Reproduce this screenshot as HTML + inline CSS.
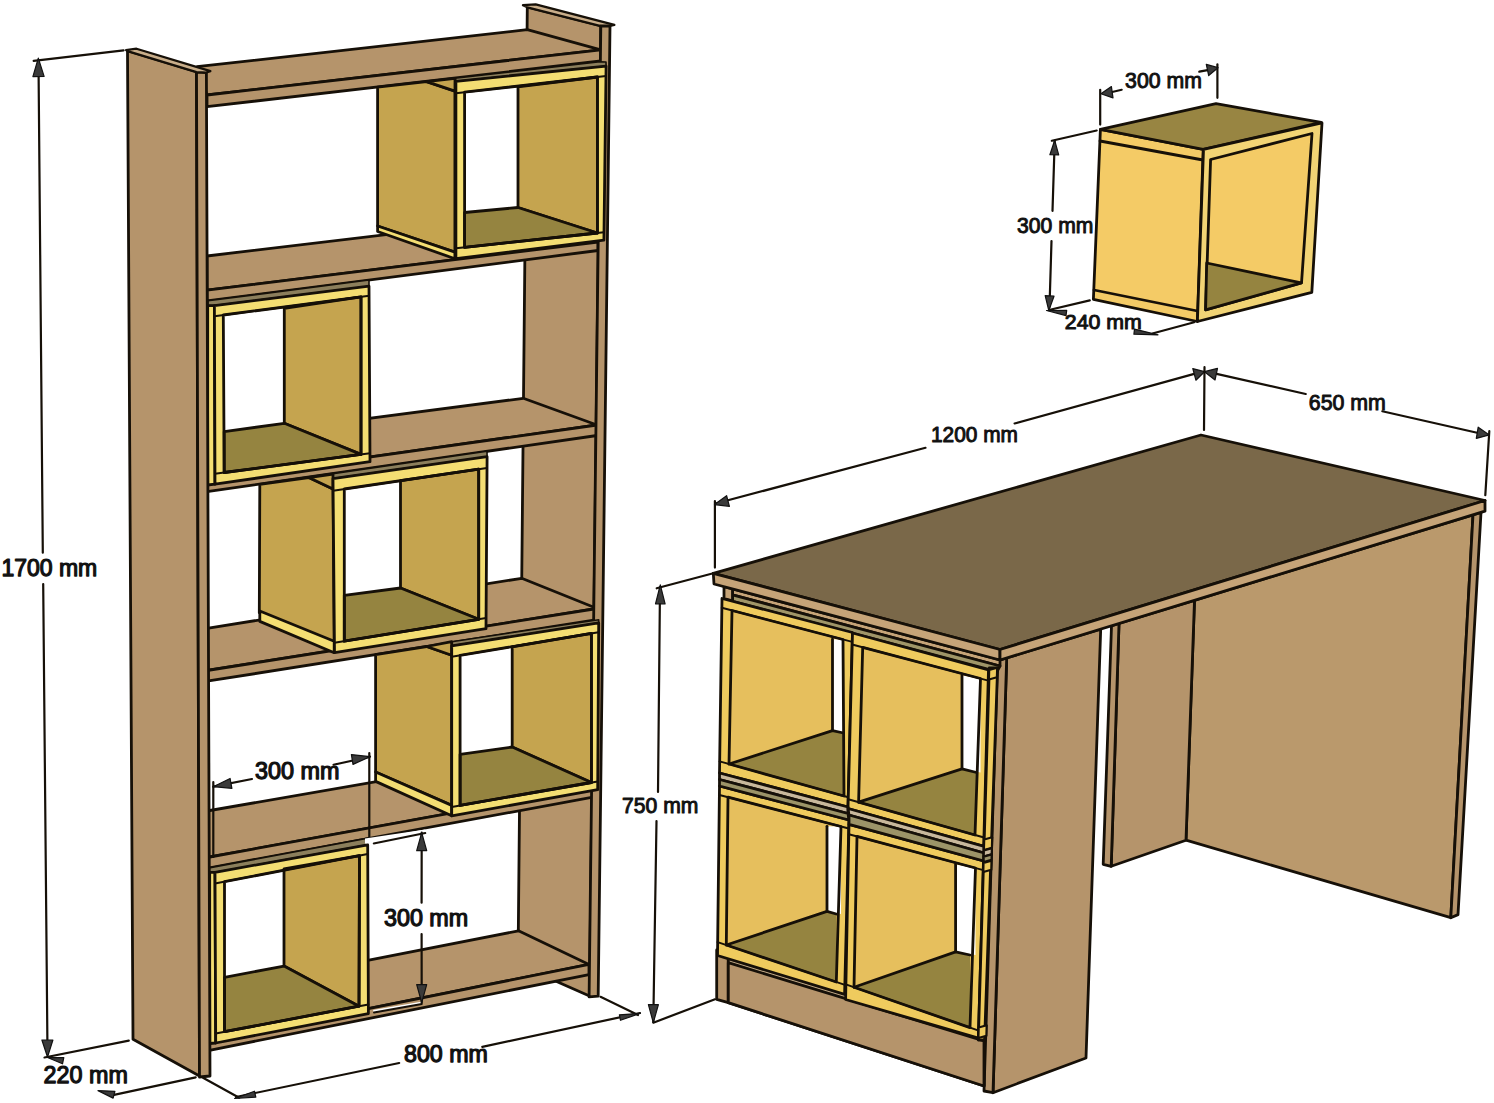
<!DOCTYPE html>
<html><head><meta charset="utf-8"><style>
html,body{margin:0;padding:0;background:#fff;}
svg{display:block;}
text{font-family:"Liberation Sans",sans-serif;fill:#111;} .b{font-weight:normal;stroke:#111;stroke-width:1.25px;} .r{font-weight:normal;stroke:#111;stroke-width:1.0px;}
</style></head><body>
<svg width="1494" height="1103" viewBox="0 0 1494 1103" stroke-linejoin="round" stroke-linecap="round">
<rect width="1494" height="1103" fill="#fff"/>
<polygon points="527.3,7.2 600.8,26.0 589.5,996.0 560.0,983.0 518.0,964.0" fill="#b5946b" stroke="#161008" stroke-width="2.8"/>
<polygon points="522.9,5.2 535.7,4.4 614.4,24.9 610.0,25.9 600.8,26.0 527.3,7.2" fill="#c9ae8a" stroke="#161008" stroke-width="2.2"/>
<polygon points="197.0,66.7 527.3,29.7 600.8,49.8 207.0,95.0" fill="#b5946b" stroke="#161008" stroke-width="2.8"/>
<polygon points="207.0,95.0 600.8,49.8 600.8,61.0 207.0,106.7" fill="#b5946b" stroke="#161008" stroke-width="2.8"/>
<polygon points="207.0,256.0 525.0,218.0 598.0,242.0 207.0,290.2" fill="#b5946b" stroke="#161008" stroke-width="2.8"/>
<polygon points="207.0,290.2 598.0,242.0 598.0,250.5 207.0,300.9" fill="#b5946b" stroke="#161008" stroke-width="2.8"/>
<polygon points="207.0,439.5 523.3,398.3 597.0,425.0 207.0,480.0" fill="#b5946b" stroke="#161008" stroke-width="2.8"/>
<polygon points="207.0,480.0 597.0,425.0 597.0,435.5 207.0,491.7" fill="#b5946b" stroke="#161008" stroke-width="2.8"/>
<polygon points="207.0,628.3 521.7,578.3 597.0,608.5 207.0,670.5" fill="#b5946b" stroke="#161008" stroke-width="2.8"/>
<polygon points="207.0,670.5 597.0,608.5 597.0,619.6 207.0,681.2" fill="#b5946b" stroke="#161008" stroke-width="2.8"/>
<polygon points="207.0,811.0 520.0,756.7 597.0,786.5 207.0,857.5" fill="#b5946b" stroke="#161008" stroke-width="2.8"/>
<polygon points="207.0,857.5 597.0,786.5 597.0,796.4 207.0,868.3" fill="#b5946b" stroke="#161008" stroke-width="2.8"/>
<polygon points="207.0,991.9 518.5,930.8 589.0,964.4 207.0,1041.0" fill="#b5946b" stroke="#161008" stroke-width="2.8"/>
<polygon points="207.0,1041.0 589.0,964.4 589.0,974.6 207.0,1050.8" fill="#b5946b" stroke="#161008" stroke-width="2.8"/>
<polygon points="600.8,26.0 610.0,25.9 598.2,996.2 589.1,996.8" fill="#b5946b" stroke="#161008" stroke-width="2.8"/>
<polygon points="455.0,78.3 600.0,61.7 606.0,62.0 606.1,66.1 455.9,81.3" fill="#8c7f5c" stroke="#161008" stroke-width="1.6"/>
<polygon points="377.6,87.2 426.6,81.6 454.9,91.1 454.9,252.1 377.6,226.0" fill="#c5a44f" stroke="#161008" stroke-width="2.8"/>
<polygon points="377.6,226.0 454.9,252.1 454.9,258.7 377.6,231.5" fill="#f4de73" stroke="#161008" stroke-width="2.8"/>
<polygon points="426.6,81.6 455.0,78.3 455.0,91.1" fill="#c5a44f" stroke="#161008" stroke-width="2.8"/>
<polygon points="455.9,81.3 606.1,66.1 603.9,240.2 455.9,258.7" fill="#f4de73" stroke="#161008" stroke-width="2.8"/>
<polygon points="464.6,92.2 518.0,86.8 518.0,207.5 464.6,212.5" fill="#ffffff"/>
<polygon points="518.0,86.8 597.4,77.0 597.4,233.0 518.0,207.5" fill="#c5a44f" stroke="#161008" stroke-width="2.8"/>
<polygon points="464.6,212.5 518.0,207.5 597.4,233.0 464.6,247.3" fill="#958440" stroke="#161008" stroke-width="2.8"/>
<polygon points="464.6,92.2 597.4,77.0 597.4,233.0 464.6,247.3" fill="none" stroke="#161008" stroke-width="2.8"/>
<polyline points="455.9,93.2 606.0,76.0" fill="none" stroke="#161008" stroke-width="2.0"/>
<polyline points="455.9,248.2 604.0,232.3" fill="none" stroke="#161008" stroke-width="2.0"/>
<polygon points="208.0,300.8 369.0,280.0 369.0,286.2 214.4,305.6 208.0,305.6" fill="#8c7f5c" stroke="#161008" stroke-width="1.6"/>
<polygon points="207.7,305.6 214.4,305.6 215.0,484.2 207.7,485.0" fill="#f4de73" stroke="#161008" stroke-width="2.8"/>
<polygon points="214.4,305.6 369.0,286.2 370.0,461.7 215.0,484.2" fill="#f4de73" stroke="#161008" stroke-width="2.8"/>
<polygon points="223.3,315.0 284.3,308.3 284.3,423.3 224.2,431.7" fill="#ffffff"/>
<polygon points="284.3,308.3 361.0,296.9 361.0,454.4 284.3,423.3" fill="#c5a44f" stroke="#161008" stroke-width="2.8"/>
<polygon points="224.2,431.7 284.3,423.3 361.0,454.4 224.2,472.5" fill="#958440" stroke="#161008" stroke-width="2.8"/>
<polygon points="223.3,315.0 361.0,296.9 361.0,454.4 224.2,472.5" fill="none" stroke="#161008" stroke-width="2.8"/>
<polyline points="214.4,316.2 369.1,295.8" fill="none" stroke="#161008" stroke-width="2.0"/>
<polyline points="215.0,473.7 370.0,453.2" fill="none" stroke="#161008" stroke-width="2.0"/>
<polygon points="333.0,473.6 487.0,451.2 487.1,456.7 332.8,478.6" fill="#8c7f5c" stroke="#161008" stroke-width="1.6"/>
<polygon points="259.8,484.3 308.8,477.5 333.0,489.0 334.2,642.2 259.3,612.7" fill="#c5a44f" stroke="#161008" stroke-width="2.8"/>
<polygon points="259.8,611.0 334.2,641.2 334.2,652.7 259.8,621.4" fill="#f4de73" stroke="#161008" stroke-width="2.8"/>
<polygon points="308.8,477.5 333.0,474.0 333.0,489.0" fill="#c5a44f" stroke="#161008" stroke-width="2.8"/>
<polygon points="333.0,478.6 487.1,456.7 486.0,628.7 334.5,652.7" fill="#f4de73" stroke="#161008" stroke-width="2.8"/>
<polygon points="344.3,489.0 400.5,480.7 400.5,588.0 344.3,595.3" fill="#ffffff"/>
<polygon points="400.5,480.7 478.7,469.2 478.7,619.3 400.5,588.0" fill="#c5a44f" stroke="#161008" stroke-width="2.8"/>
<polygon points="344.3,595.3 400.5,588.0 478.7,619.3 344.3,641.2" fill="#958440" stroke="#161008" stroke-width="2.8"/>
<polygon points="344.3,489.0 478.7,469.2 478.7,619.3 344.3,641.2" fill="none" stroke="#161008" stroke-width="2.8"/>
<polyline points="333.1,490.7 487.0,468.0" fill="none" stroke="#161008" stroke-width="2.0"/>
<polyline points="334.4,642.8 486.1,618.1" fill="none" stroke="#161008" stroke-width="2.0"/>
<polygon points="451.7,641.7 598.7,619.8 598.7,622.9 451.7,645.9" fill="#8c7f5c" stroke="#161008" stroke-width="1.6"/>
<polygon points="375.6,654.6 426.7,646.5 451.7,655.3 451.7,805.4 375.6,772.0" fill="#c5a44f" stroke="#161008" stroke-width="2.8"/>
<polygon points="375.6,772.0 451.7,805.4 451.7,815.8 375.6,781.4" fill="#f4de73" stroke="#161008" stroke-width="2.8"/>
<polygon points="426.7,646.5 451.7,641.7 451.7,655.3" fill="#c5a44f" stroke="#161008" stroke-width="2.8"/>
<polygon points="451.7,645.9 598.7,622.9 597.7,789.7 451.7,815.8" fill="#f4de73" stroke="#161008" stroke-width="2.8"/>
<polygon points="460.1,655.3 512.2,646.9 512.2,747.0 460.1,754.3" fill="#ffffff"/>
<polygon points="512.2,646.9 591.4,633.4 591.4,782.5 512.2,747.0" fill="#c5a44f" stroke="#161008" stroke-width="2.8"/>
<polygon points="460.1,754.3 512.2,747.0 591.4,782.5 460.1,805.4" fill="#958440" stroke="#161008" stroke-width="2.8"/>
<polygon points="460.1,655.3 591.4,633.4 591.4,782.5 460.1,805.4" fill="none" stroke="#161008" stroke-width="2.8"/>
<polyline points="451.7,656.7 598.6,632.2" fill="none" stroke="#161008" stroke-width="2.0"/>
<polyline points="451.7,806.9 597.7,781.4" fill="none" stroke="#161008" stroke-width="2.0"/>
<polygon points="209.0,867.9 365.0,838.6 367.7,838.0 367.7,844.9 215.0,872.3 209.0,872.3" fill="#8c7f5c" stroke="#161008" stroke-width="1.6"/>
<polygon points="209.7,872.3 215.0,872.3 215.7,1043.0 209.7,1043.5" fill="#f4de73" stroke="#161008" stroke-width="2.8"/>
<polygon points="215.0,872.3 367.7,844.9 368.4,1013.6 215.7,1043.0" fill="#f4de73" stroke="#161008" stroke-width="2.8"/>
<polygon points="224.5,881.7 284.0,869.0 284.0,966.1 224.5,977.4" fill="#ffffff"/>
<polygon points="284.0,869.0 359.5,855.6 359.0,1006.2 284.0,966.1" fill="#c5a44f" stroke="#161008" stroke-width="2.8"/>
<polygon points="224.5,977.4 284.0,966.1 359.0,1006.2 224.5,1031.7" fill="#958440" stroke="#161008" stroke-width="2.8"/>
<polygon points="224.5,881.7 359.5,855.6 359.0,1006.2 224.5,1031.7" fill="none" stroke="#161008" stroke-width="2.8"/>
<polyline points="215.0,883.5 367.7,854.0" fill="none" stroke="#161008" stroke-width="2.0"/>
<polyline points="215.7,1033.4 368.4,1004.4" fill="none" stroke="#161008" stroke-width="2.0"/>
<polygon points="127.5,51.0 196.5,72.0 199.5,1076.0 133.0,1039.3" fill="#b5946b" stroke="#161008" stroke-width="2.8"/>
<polygon points="196.5,72.0 206.4,72.5 210.0,1076.0 199.5,1077.0" fill="#b5946b" stroke="#161008" stroke-width="2.8"/>
<polygon points="126.0,50.0 136.5,48.7 210.4,71.1 206.4,72.5 196.5,72.0 127.5,51.0" fill="#c9ae8a" stroke="#161008" stroke-width="2.2"/>
<polygon points="1194.5,600.3 1473.0,514.9 1450.8,917.7 1186.0,840.2" fill="#ba996c" stroke="#161008" stroke-width="2.8"/>
<polygon points="1473.0,514.9 1481.0,512.4 1458.0,914.6 1450.8,917.7" fill="#b5946b" stroke="#161008" stroke-width="2.8"/>
<polygon points="1119.0,623.5 1194.5,600.3 1186.0,840.2 1111.2,866.3" fill="#b5946b" stroke="#161008" stroke-width="2.8"/>
<polygon points="1111.5,625.8 1119.0,623.5 1111.2,866.3 1103.2,864.3" fill="#b5946b" stroke="#161008" stroke-width="2.8"/>
<polygon points="1006.7,657.9 1100.7,629.1 1086.0,1058.0 993.0,1092.7" fill="#b5946b" stroke="#161008" stroke-width="2.8"/>
<polygon points="997.5,660.8 1006.7,657.9 993.0,1092.7 984.0,1091.0" fill="#b5946b" stroke="#161008" stroke-width="2.8"/>
<polygon points="716.7,950.0 728.3,952.0 728.3,1002.7 716.7,999.3" fill="#b5946b" stroke="#161008" stroke-width="2.8"/>
<polygon points="728.3,952.0 984.0,1030.0 984.0,1086.0 728.3,1002.7" fill="#c9b08c" stroke="#161008" stroke-width="2.8"/>
<polygon points="728.3,962.7 984.0,1041.0 984.0,1086.0 728.3,1002.7" fill="#b5946b" stroke="#161008" stroke-width="2.8"/>
<polygon points="732.5,588.9 1000.0,660.0 1000.0,666.0 732.5,594.9" fill="#c6a478" stroke="#161008" stroke-width="2.8"/>
<polygon points="732.5,594.9 1000.0,666.0 997.0,671.7 732.5,601.4" fill="#a09668" stroke="#161008" stroke-width="2.8"/>
<polygon points="724.0,586.7 732.5,588.9 732.5,600.9 724.0,598.7" fill="#c6a478" stroke="#161008" stroke-width="2.8"/>
<polygon points="722.0,598.5 852.5,632.5 848.0,807.0 719.5,773.0" fill="#efcb5e" stroke="#161008" stroke-width="2.8"/>
<polygon points="732.0,610.5 843.0,639.5 844.0,796.0 729.0,764.0" fill="#e6bf5d"/>
<polygon points="832.5,639.2 843.0,639.5 843.0,733.0 832.5,730.6" fill="#ffffff"/>
<polygon points="729.0,764.0 832.5,730.6 843.5,733.0 844.0,796.0" fill="#958440"/>
<polyline points="729.0,764.0 832.5,730.6 843.5,733.0" fill="none" stroke="#161008" stroke-width="2.8"/>
<polyline points="832.5,639.2 832.5,730.6" fill="none" stroke="#161008" stroke-width="2.8"/>
<polygon points="732.0,610.5 843.0,639.5 844.0,796.0 729.0,764.0" fill="none" stroke="#161008" stroke-width="2.8"/>
<polyline points="721.8,607.8 852.3,641.9" fill="none" stroke="#161008" stroke-width="2.0"/>
<polyline points="719.6,761.4 848.3,797.2" fill="none" stroke="#161008" stroke-width="2.0"/>
<polygon points="852.5,633.0 988.5,670.0 983.7,846.4 848.0,808.5" fill="#efcb5e" stroke="#161008" stroke-width="2.8"/>
<polygon points="862.7,647.3 980.5,678.5 975.0,835.0 858.6,802.2" fill="#e6bf5d"/>
<polygon points="962.0,675.4 980.5,678.5 980.5,772.5 962.0,768.8" fill="#ffffff"/>
<polygon points="858.6,802.2 962.0,768.8 976.5,772.5 975.0,835.0" fill="#958440"/>
<polyline points="858.6,802.2 962.0,768.8 976.5,772.5" fill="none" stroke="#161008" stroke-width="2.8"/>
<polyline points="962.0,675.4 962.0,768.8" fill="none" stroke="#161008" stroke-width="2.8"/>
<polygon points="862.7,647.3 980.5,678.5 975.0,835.0 858.6,802.2" fill="none" stroke="#161008" stroke-width="2.8"/>
<polyline points="852.1,644.5 988.3,680.6" fill="none" stroke="#161008" stroke-width="2.0"/>
<polyline points="848.2,799.3 984.0,837.5" fill="none" stroke="#161008" stroke-width="2.0"/>
<polygon points="719.5,786.0 849.0,820.0 844.6,994.4 717.5,955.5" fill="#efcb5e" stroke="#161008" stroke-width="2.8"/>
<polygon points="728.0,797.2 841.0,826.5 836.3,982.0 726.3,945.0" fill="#e6bf5d"/>
<polygon points="827.0,826.3 841.0,826.5 841.0,914.0 827.0,911.4" fill="#ffffff"/>
<polygon points="726.3,945.0 827.0,911.4 836.3,914.0 836.3,982.0" fill="#958440"/>
<polyline points="726.3,945.0 827.0,911.4 836.3,914.0" fill="none" stroke="#161008" stroke-width="2.8"/>
<polyline points="827.0,826.3 827.0,911.4" fill="none" stroke="#161008" stroke-width="2.8"/>
<polygon points="728.0,797.2 841.0,826.5 836.3,982.0 726.3,945.0" fill="none" stroke="#161008" stroke-width="2.8"/>
<polyline points="719.4,795.0 848.8,828.5" fill="none" stroke="#161008" stroke-width="2.0"/>
<polyline points="717.6,942.1 844.9,984.9" fill="none" stroke="#161008" stroke-width="2.0"/>
<polygon points="849.0,824.3 983.5,861.0 978.4,1038.0 845.6,999.5" fill="#efcb5e" stroke="#161008" stroke-width="2.8"/>
<polygon points="857.0,836.4 975.5,868.0 970.0,1027.6 854.0,987.2" fill="#e6bf5d"/>
<polygon points="955.6,864.5 975.5,868.0 975.5,955.0 955.6,951.9" fill="#ffffff"/>
<polygon points="854.0,987.2 955.6,951.9 970.0,955.0 970.0,1027.6" fill="#958440"/>
<polyline points="854.0,987.2 955.6,951.9 970.0,955.0" fill="none" stroke="#161008" stroke-width="2.8"/>
<polyline points="955.6,864.5 955.6,951.9" fill="none" stroke="#161008" stroke-width="2.8"/>
<polygon points="857.0,836.4 975.5,868.0 970.0,1027.6 854.0,987.2" fill="none" stroke="#161008" stroke-width="2.8"/>
<polyline points="848.8,834.2 983.3,870.1" fill="none" stroke="#161008" stroke-width="2.0"/>
<polyline points="845.8,984.4 978.7,1030.6" fill="none" stroke="#161008" stroke-width="2.0"/>
<polygon points="719.5,773.0 848.0,807.0 848.0,813.5 719.5,779.5" fill="#c8b89c" stroke="#161008" stroke-width="2.8"/>
<polygon points="719.5,779.5 848.0,813.5 849.0,820.0 719.5,786.0" fill="#9c9468" stroke="#161008" stroke-width="2.8"/>
<polygon points="848.0,808.5 984.2,846.4 984.2,853.0 849.0,815.0" fill="#c8b89c" stroke="#161008" stroke-width="2.8"/>
<polygon points="849.0,815.0 984.2,853.0 984.0,861.0 849.0,824.3" fill="#9c9468" stroke="#161008" stroke-width="2.8"/>
<polygon points="989.3,668.0 997.6,668.0 984.6,1040.0 978.3,1040.0" fill="#efcb5e" stroke="#161008" stroke-width="2.8"/>
<polygon points="989.2,670.0 997.2,667.8 996.9,677.3 988.9,679.5" fill="#efcb5e" stroke="#161008" stroke-width="2.2"/>
<polygon points="984.2,839.5 992.2,837.3 991.9,847.8 983.9,850.0" fill="#efcb5e" stroke="#161008" stroke-width="2.2"/>
<polygon points="983.9,850.5 991.9,848.3 991.7,854.4 983.7,856.6" fill="#c8b89c" stroke="#161008" stroke-width="2.2"/>
<polygon points="983.7,856.6 991.7,854.4 991.6,859.8 983.6,862.0" fill="#9c9468" stroke="#161008" stroke-width="2.2"/>
<polygon points="983.5,863.0 991.5,860.8 991.3,869.8 983.3,872.0" fill="#efcb5e" stroke="#161008" stroke-width="2.2"/>
<polygon points="978.7,1027.5 986.7,1025.3 986.4,1035.8 978.4,1038.0" fill="#efcb5e" stroke="#161008" stroke-width="2.2"/>
<polygon points="713.3,573.3 1201.0,435.0 1485.0,500.5 1000.0,649.5" fill="#7a6849" stroke="#161008" stroke-width="2.8"/>
<polygon points="713.3,573.3 1000.0,649.5 1000.0,660.0 714.0,584.0" fill="#c6a478" stroke="#161008" stroke-width="2.8"/>
<polygon points="1000.0,649.5 1485.0,500.5 1485.0,511.2 1000.0,660.0" fill="#c6a478" stroke="#161008" stroke-width="2.8"/>
<polygon points="1100.4,129.4 1203.2,149.3 1197.4,321.5 1093.4,299.3" fill="#f4cb66" stroke="#161008" stroke-width="2.8"/>
<polyline points="1100.0,141.0 1203.0,160.0" fill="none" stroke="#161008" stroke-width="2.8"/>
<polyline points="1094.0,290.0 1197.5,311.0" fill="none" stroke="#161008" stroke-width="2.8"/>
<polygon points="1100.4,129.4 1216.0,103.7 1321.2,122.4 1203.2,149.3" fill="#988542" stroke="#161008" stroke-width="2.8"/>
<polygon points="1203.5,149.4 1322.0,123.0 1311.8,292.3 1197.4,321.5" fill="#f2d475" stroke="#161008" stroke-width="2.8"/>
<polygon points="1210.6,159.5 1312.0,133.5 1301.5,283.0 1205.6,309.8" fill="#f4cb66" stroke="#161008" stroke-width="2.8"/>
<polygon points="1206.7,263.0 1301.3,282.9 1205.6,309.8" fill="#958440" stroke="#161008" stroke-width="2.8"/>
<polyline points="33.7,60.9 123.6,50.4" fill="none" stroke="#161008" stroke-width="2.2"/>
<polyline points="38.5,62.0 42.8,552.7" fill="none" stroke="#161008" stroke-width="2.2"/>
<polyline points="43.2,584.0 47.5,1054.0" fill="none" stroke="#161008" stroke-width="2.2"/>
<polygon points="38.3,58.1 44.1,76.4 32.9,76.6" fill="#3a3a3a" stroke="#111" stroke-width="1.2"/>
<polygon points="47.5,1057.0 41.9,1040.0 52.9,1040.0" fill="#3a3a3a" stroke="#111" stroke-width="1.2"/>
<polyline points="44.5,1057.5 128.8,1040.6" fill="none" stroke="#161008" stroke-width="2.2"/>
<polyline points="114.0,1094.8 195.7,1077.3" fill="none" stroke="#161008" stroke-width="2.2"/>
<polygon points="47.5,1057.5 63.8,1057.6 62.5,1063.8" fill="#3a3a3a" stroke="#111" stroke-width="1.2"/>
<polygon points="98.0,1090.6 114.9,1091.3 113.1,1098.1" fill="#3a3a3a" stroke="#111" stroke-width="1.2"/>
<polyline points="203.0,1077.7 239.2,1097.7" fill="none" stroke="#161008" stroke-width="2.2"/>
<polyline points="236.0,1097.0 399.2,1063.0" fill="none" stroke="#161008" stroke-width="2.2"/>
<polyline points="482.3,1046.8 640.0,1013.0" fill="none" stroke="#161008" stroke-width="2.2"/>
<polyline points="600.5,996.8 638.0,1015.0" fill="none" stroke="#161008" stroke-width="2.2"/>
<polygon points="234.6,1098.5 254.5,1091.2 255.8,1097.1" fill="#3a3a3a" stroke="#111" stroke-width="1.2"/>
<polygon points="640.5,1013.3 620.5,1020.3 619.4,1014.8" fill="#3a3a3a" stroke="#111" stroke-width="1.2"/>
<polyline points="213.3,782.0 213.3,857.0" fill="none" stroke="#161008" stroke-width="2.2"/>
<polyline points="369.3,753.0 369.3,837.0" fill="none" stroke="#161008" stroke-width="2.2"/>
<polyline points="213.3,786.7 252.0,779.0" fill="none" stroke="#161008" stroke-width="2.2"/>
<polyline points="333.6,764.7 370.0,756.7" fill="none" stroke="#161008" stroke-width="2.2"/>
<polygon points="213.3,786.7 230.1,778.5 231.9,788.3" fill="#3a3a3a" stroke="#111" stroke-width="1.2"/>
<polygon points="370.0,756.7 353.0,764.4 351.4,754.6" fill="#3a3a3a" stroke="#111" stroke-width="1.2"/>
<polygon points="365.0,838.5 425.3,829.5 425.3,833.1 373.7,843.4 365.0,843.4" fill="#ffffff"/>
<polyline points="373.7,843.4 425.3,833.1" fill="none" stroke="#161008" stroke-width="2"/>
<polygon points="373.0,1010.0 421.0,1001.8 421.0,1004.0 374.0,1012.4" fill="#ffffff"/>
<polyline points="374.0,1012.4 421.8,1004.0" fill="none" stroke="#161008" stroke-width="2"/>
<polyline points="421.7,832.7 421.6,902.7" fill="none" stroke="#161008" stroke-width="2.2"/>
<polyline points="421.6,934.0 421.7,1002.7" fill="none" stroke="#161008" stroke-width="2.2"/>
<polygon points="421.7,832.7 426.7,850.7 416.7,850.7" fill="#3a3a3a" stroke="#111" stroke-width="1.2"/>
<polygon points="421.7,1002.7 416.7,984.7 426.7,984.7" fill="#3a3a3a" stroke="#111" stroke-width="1.2"/>
<polyline points="656.7,588.3 713.3,573.3" fill="none" stroke="#161008" stroke-width="2.2"/>
<polyline points="660.0,587.0 658.0,792.0" fill="none" stroke="#161008" stroke-width="2.2"/>
<polyline points="656.5,821.0 653.3,1022.0" fill="none" stroke="#161008" stroke-width="2.2"/>
<polyline points="653.3,1022.7 715.0,999.3" fill="none" stroke="#161008" stroke-width="2.2"/>
<polygon points="660.3,584.8 665.1,603.8 655.5,603.8" fill="#3a3a3a" stroke="#111" stroke-width="1.2"/>
<polygon points="653.3,1022.7 648.4,1004.7 658.4,1004.7" fill="#3a3a3a" stroke="#111" stroke-width="1.2"/>
<polyline points="714.9,501.0 714.9,567.6" fill="none" stroke="#161008" stroke-width="2.2"/>
<polyline points="716.7,503.3 925.5,447.8" fill="none" stroke="#161008" stroke-width="2.2"/>
<polyline points="1014.6,423.5 1194.2,373.9" fill="none" stroke="#161008" stroke-width="2.2"/>
<polygon points="714.5,504.6 726.6,495.7 729.4,506.3" fill="#3a3a3a" stroke="#111" stroke-width="1.2"/>
<polygon points="1204.5,371.7 1195.9,380.2 1192.8,368.6" fill="#3a3a3a" stroke="#111" stroke-width="1.2"/>
<polyline points="1204.5,367.2 1204.0,430.0" fill="none" stroke="#161008" stroke-width="2.2"/>
<polyline points="1216.6,373.9 1305.7,394.0" fill="none" stroke="#161008" stroke-width="2.2"/>
<polyline points="1382.3,411.3 1477.1,432.8" fill="none" stroke="#161008" stroke-width="2.2"/>
<polyline points="1489.3,431.2 1485.3,495.2" fill="none" stroke="#161008" stroke-width="2.2"/>
<polygon points="1204.5,371.7 1217.5,368.3 1215.0,380.0" fill="#3a3a3a" stroke="#111" stroke-width="1.2"/>
<polygon points="1489.3,434.9 1476.3,438.4 1478.2,427.2" fill="#3a3a3a" stroke="#111" stroke-width="1.2"/>
<polyline points="1100.2,89.8 1100.2,124.6" fill="none" stroke="#161008" stroke-width="2.2"/>
<polyline points="1217.4,64.4 1217.4,97.8" fill="none" stroke="#161008" stroke-width="2.2"/>
<polyline points="1110.0,92.5 1121.7,89.8" fill="none" stroke="#161008" stroke-width="2.2"/>
<polyline points="1199.3,71.7 1209.0,69.8" fill="none" stroke="#161008" stroke-width="2.2"/>
<polygon points="1100.9,93.8 1111.4,86.6 1113.0,97.9" fill="#3a3a3a" stroke="#111" stroke-width="1.2"/>
<polygon points="1218.0,67.7 1208.7,75.5 1206.3,64.4" fill="#3a3a3a" stroke="#111" stroke-width="1.2"/>
<polyline points="1051.8,140.7 1096.7,130.5" fill="none" stroke="#161008" stroke-width="2.2"/>
<polyline points="1054.7,141.0 1052.5,210.9" fill="none" stroke="#161008" stroke-width="2.2"/>
<polyline points="1051.5,241.0 1049.5,307.0" fill="none" stroke="#161008" stroke-width="2.2"/>
<polyline points="1049.0,310.0 1089.8,300.4" fill="none" stroke="#161008" stroke-width="2.2"/>
<polygon points="1054.7,140.3 1058.7,154.9 1049.9,154.7" fill="#3a3a3a" stroke="#111" stroke-width="1.2"/>
<polygon points="1048.8,310.6 1045.2,295.7 1054.0,296.2" fill="#3a3a3a" stroke="#111" stroke-width="1.2"/>
<polyline points="1152.4,333.5 1194.2,322.3" fill="none" stroke="#161008" stroke-width="2.2"/>
<polygon points="1046.5,310.5 1066.7,310.4 1066.0,315.6" fill="#3a3a3a" stroke="#111" stroke-width="1.2"/>
<polygon points="1158.0,334.8 1133.9,334.2 1134.5,329.1" fill="#3a3a3a" stroke="#111" stroke-width="1.2"/>
<text class="b" x="1.4" y="575.7" font-size="24.20" textLength="95.9" lengthAdjust="spacingAndGlyphs">1700 mm</text>
<text class="b" x="43.6" y="1082.5" font-size="24.48" textLength="84.2" lengthAdjust="spacingAndGlyphs">220 mm</text>
<text class="b" x="404.0" y="1062.3" font-size="24.20" textLength="83.8" lengthAdjust="spacingAndGlyphs">800 mm</text>
<text class="b" x="255.1" y="778.9" font-size="23.64" textLength="84.4" lengthAdjust="spacingAndGlyphs">300 mm</text>
<text class="b" x="384.0" y="926.0" font-size="24.20" textLength="84.2" lengthAdjust="spacingAndGlyphs">300 mm</text>
<text class="r" x="622.1" y="813.4" font-size="22.10" textLength="76.3" lengthAdjust="spacingAndGlyphs">750 mm</text>
<text class="r" x="931.0" y="442.3" font-size="22.10" textLength="87.0" lengthAdjust="spacingAndGlyphs">1200 mm</text>
<text class="r" x="1308.8" y="409.5" font-size="22.66" textLength="77.1" lengthAdjust="spacingAndGlyphs">650 mm</text>
<text class="r" x="1125.1" y="88.1" font-size="22.66" textLength="76.8" lengthAdjust="spacingAndGlyphs">300 mm</text>
<text class="r" x="1017.1" y="233.1" font-size="22.66" textLength="76.3" lengthAdjust="spacingAndGlyphs">300 mm</text>
<text class="r" x="1064.8" y="329.0" font-size="20.98" textLength="77.1" lengthAdjust="spacingAndGlyphs">240 mm</text>
</svg></body></html>
